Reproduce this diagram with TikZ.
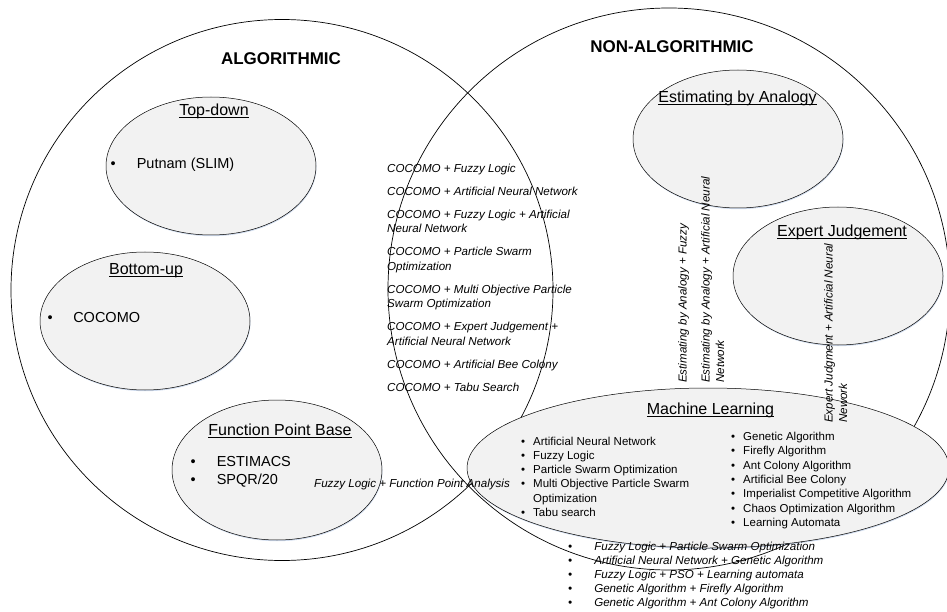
\documentclass[tikz,border=0pt]{standalone}
\usepackage{fontspec}
\setmainfont{Liberation Sans}
\usetikzlibrary{shapes.geometric,shadows}
\definecolor{ellFill}{RGB}{242,242,242}
\definecolor{shadowBlue}{RGB}{175,195,225}
\newcommand{\undl}[1]{\setbox0\hbox{#1}\rlap{\rule[-1.7pt]{\wd0}{0.6pt}}\box0}

\begin{document}
\begin{tikzpicture}[x=1pt,y=-1pt,
  bigset/.style={draw,ellipse,line width=0.7pt,inner sep=0pt},
  group/.style={draw,ellipse,line width=0.5pt,fill=ellFill,inner sep=0pt,minimum width=210pt,minimum height=138pt,
    drop shadow={shadow xshift=0.5pt,shadow yshift=-1.2pt,fill=shadowBlue,opacity=0.6}},
  settitle/.style={anchor=base,inner sep=0pt,font=\fontsize{17}{20}\selectfont\bfseries},
  grouptitle/.style={anchor=base,inner sep=0pt,font=\fontsize{16}{19}\selectfont},
  bigitem/.style={anchor=base west,inner sep=0pt,font=\fontsize{14.5}{18}\selectfont},
  mlitem/.style={anchor=base west,inner sep=0pt,font=\fontsize{11.5}{14.3}\selectfont},
  combo/.style={anchor=base west,inner sep=0pt,font=\fontsize{11.6}{14.5}\selectfont\itshape}
]
\useasboundingbox (0,0) rectangle (947,612);

% the two big sets
\node[bigset,minimum width=542pt,minimum height=541pt] (algo) at (282,290) {};
\node[bigset,minimum width=562pt,minimum height=562pt] (nonalgo) at (669,289) {};

% groups
\node[group] (td) at (211,166) {};
\node[group] (bu) at (145,321) {};
\node[group,minimum height=140pt] (fpb) at (277,470) {};
\node[group] (eba) at (738,139) {};
\node[group] (ej) at (838,276) {};
\node[group,minimum width=482pt,minimum height=160pt] (ml) at (708,468) {};

\node[settitle] (algoTitle) at (281,65) {ALGORITHMIC};
\node[settitle] (nonalgoTitle) at (672,53) {NON-ALGORITHMIC};

\node[grouptitle] (tdTitle) at (214,116) {\undl{Top-down}};
\node[grouptitle] (buTitle) at (146,274.5) {\undl{Bottom-up}};
\node[grouptitle] (fpbTitle) at (280,435.5) {\undl{Function Point Base}};
\node[grouptitle] (ebaTitle) at (737.5,102.5) {\undl{Estimating by Analogy}};
\node[grouptitle] (ejTitle) at (842,236.5) {\undl{Expert Judgement}};
\node[grouptitle] (mlTitle) at (710.5,414.5) {\undl{Machine Learning}};

\node[bigitem] (tdList) at (110.5,169) {\textbullet\hspace{21pt}Putnam (SLIM)};
\node[bigitem] (buList) at (47.5,322) {\textbullet\hspace{20.5pt}COCOMO};
\node[bigitem] (fpbList) at (190.5,466) {\begin{tabular}[t]{@{}l@{\hspace{21pt}}l@{}}
  \textbullet & ESTIMACS\\
  \textbullet & SPQR/20
\end{tabular}};

\node[mlitem] (mlLeft) at (521,445) {\begin{tabular}[t]{@{}l@{\hspace{8pt}}l@{}}
  \textbullet & Artificial Neural Network\\
  \textbullet & Fuzzy Logic\\
  \textbullet & Particle Swarm Optimization\\
  \textbullet & Multi Objective Particle Swarm\\
   & Optimization\\
  \textbullet & Tabu search
\end{tabular}};
\node[mlitem] (mlRight) at (731,440.5) {\begin{tabular}[t]{@{}l@{\hspace{8pt}}l@{}}
  \textbullet & Genetic Algorithm\\
  \textbullet & Firefly Algorithm\\
  \textbullet & Ant Colony Algorithm\\
  \textbullet & Artificial Bee Colony\\
  \textbullet & Imperialist Competitive Algorithm\\
  \textbullet & Chaos Optimization Algorithm\\
  \textbullet & Learning Automata
\end{tabular}};

% hybrid approaches
\node[combo] (cocomoMix) at (387,172.5) {\begin{tabular}[t]{@{}l@{}}
  COCOMO + Fuzzy Logic\\[8.5pt]
  COCOMO + Artificial Neural Network\\[8.5pt]
  COCOMO + Fuzzy Logic + Artificial\\
  Neural Network\\[8.5pt]
  COCOMO + Particle Swarm\\
  Optimization\\[8.5pt]
  COCOMO + Multi Objective Particle\\
  Swarm Optimization\\[8.5pt]
  COCOMO + Expert Judgement +\\
  Artificial Neural Network\\[8.5pt]
  COCOMO + Artificial Bee Colony\\[8.5pt]
  COCOMO + Tabu Search
\end{tabular}};
\node[combo] (fpaMix) at (314,487) {Fuzzy Logic + Function Point Analysis};
\node[combo,rotate=90] (ebaFuzzy) at (686.5,383) {Estimating by Analogy + Fuzzy};
\node[combo,rotate=90] (ebaAnn) at (709.5,383) {\begin{tabular}[t]{@{}l@{}}
  Estimating by Analogy + Artificial Neural\\
  Network
\end{tabular}};
\node[combo,rotate=90] (ejAnn) at (832.5,423) {\begin{tabular}[t]{@{}l@{}}
  Expert Judgment + Artificial Neural\\
  Nework
\end{tabular}};
\node[combo,font=\fontsize{11.6}{14}\selectfont\itshape] (mlMix) at (568,550.5) {\begin{tabular}[t]{@{}l@{\hspace{22pt}}l@{}}
  \textbullet & Fuzzy Logic + Particle Swarm Optimization\\
  \textbullet & Artificial Neural Network + Genetic Algorithm\\
  \textbullet & Fuzzy Logic + PSO + Learning automata\\
  \textbullet & Genetic Algorithm + Firefly Algorithm\\
  \textbullet & Genetic Algorithm + Ant Colony Algorithm
\end{tabular}};
\end{tikzpicture}
\end{document}
